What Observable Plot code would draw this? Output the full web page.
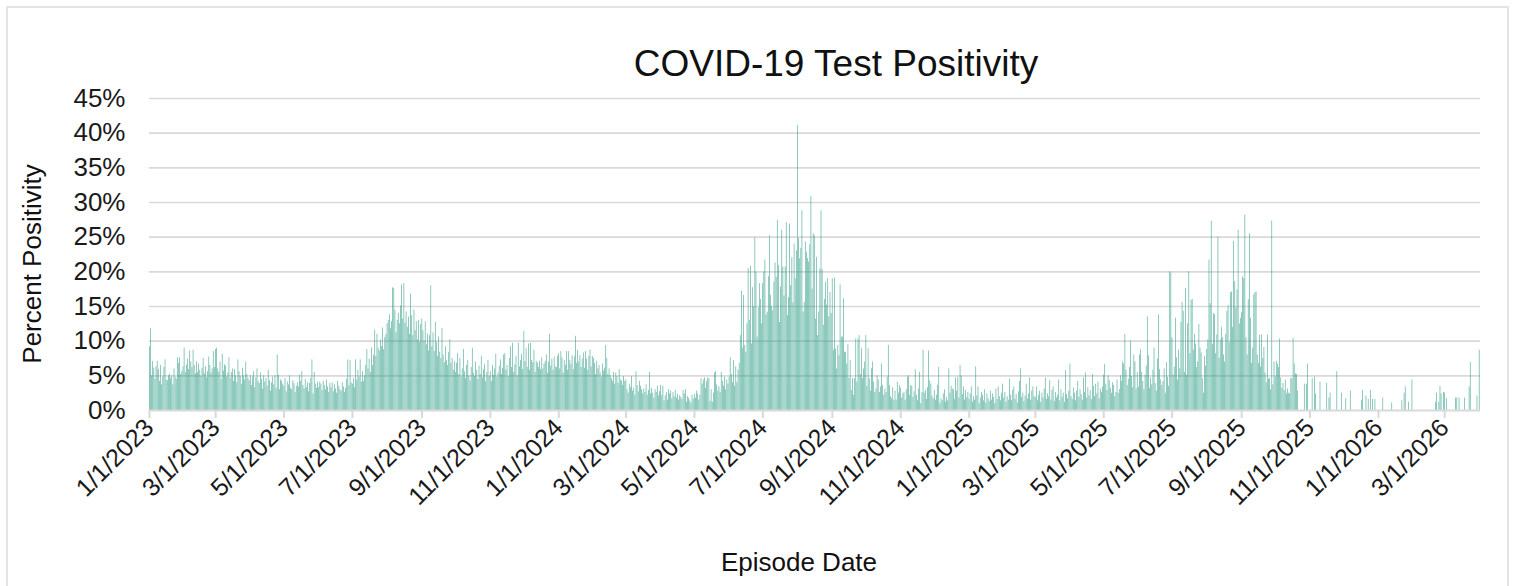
<!DOCTYPE html>
<html><head><meta charset="utf-8">
<script src="https://cdn.jsdelivr.net/npm/d3@7"></script>
<script src="https://cdn.jsdelivr.net/npm/@observablehq/plot@0.6"></script>
<style>
body{margin:0;background:#fff;}
#wrap{position:relative;width:1513px;height:586px;overflow:hidden;background:#fff;}
#frame{position:absolute;left:6px;top:6px;width:1503px;height:620px;border:2px solid #e4e4e4;box-sizing:border-box;}
#chart{position:absolute;left:0;top:0;}
</style></head><body>
<div id="wrap"><div id="frame"></div><div id="chart"></div></div>
<script>
// Daily percent positivity, one inner array per month (Jan..Dec)
const pos2023 = [
 [9.2,11.8,5.0,7.1,6.1,4.5,6.3,7.1,5.9,4.2,6.5,3.7,4.8,6.2,7.3,4.4,4.3,5.0,5.2,4.6,5.0,3.7,6.0,4.8,4.5,7.6,6.8,7.6,5.2,5.6,6.3],
 [9.0,5.5,6.5,7.4,5.9,8.6,7.0,6.2,8.7,6.5,5.3,7.0,5.5,6.7,5.8,4.9,6.1,7.5,5.3,6.3,4.7,5.6,7.7,6.5,5.4,6.0,8.5,6.2],
 [8.8,9.0,6.0,5.5,7.0,4.5,8.1,5.7,6.6,6.4,4.8,5.4,7.6,4.6,5.5,6.0,4.2,5.9,5.0,4.0,7.3,5.6,4.9,3.8,6.1,5.0,4.4,7.0,5.2,4.6,4.3],
 [5.0,3.6,4.8,5.6,3.3,4.7,6.0,4.2,3.9,5.4,4.5,3.1,5.0,4.1,4.6,3.5,5.8,4.3,2.8,4.0,4.8,3.7,5.0,3.2,8.0,5.1,3.0,4.4,4.2,3.8],
 [3.5,4.6,2.7,4.1,3.7,5.0,3.2,3.0,4.3,3.9,2.6,3.5,4.0,3.4,5.1,4.2,5.6,3.6,3.1,4.5,3.3,4.0,2.7,3.9,4.6,7.3,2.4,5.5,3.8,3.2,4.1],
 [3.3,4.1,3.8,2.9,4.2,3.6,3.0,4.4,3.4,2.6,3.9,3.3,4.0,2.7,3.7,3.1,2.5,4.2,3.5,3.0,2.8,4.0,3.4,2.6,3.2,4.5,7.3,3.6,7.2,4.0],
 [3.8,4.6,3.3,7.3,4.4,5.8,4.8,7.3,4.1,5.6,4.2,5.0,6.5,8.8,6.0,7.4,5.5,9.0,6.5,8.0,11.6,7.8,11.0,9.0,8.6,10.2,9.2,11.9,8.8,10.5,11.0],
 [12.5,13.0,13.8,11.8,12.8,17.7,17.6,14.5,11.2,13.0,14.0,12.5,15.1,18.1,13.2,18.3,12.6,14.2,12.0,13.5,11.0,16.8,13.7,10.8,14.5,11.5,12.8,10.2,13.0,9.8,12.4],
 [13.2,11.5,10.0,12.8,9.5,11.0,8.6,10.8,18.0,9.2,11.2,8.5,12.7,9.8,7.8,10.6,8.4,7.5,11.8,8.0,6.9,9.2,7.2,6.5,8.4,10.2,6.8,7.5,5.8,7.0],
 [5.5,6.8,8.2,5.2,7.5,4.8,6.0,8.8,5.6,4.6,6.5,7.2,5.0,4.3,6.2,9.0,5.4,4.9,7.0,5.8,4.5,6.4,5.2,7.8,4.7,5.9,6.6,4.2,5.5,7.2,4.9],
 [5.6,4.2,6.5,5.1,6.0,8.1,4.8,5.4,6.4,7.3,5.2,6.1,8.0,8.2,5.8,6.5,4.9,7.5,9.2,6.2,9.7,5.5,6.6,7.8,5.0,9.7,6.3,7.2,8.1,5.9],
 [11.4,7.0,8.9,6.2,9.6,5.8,9.7,7.2,6.9,8.7,5.5,7.1,6.8,6.2,7.1,5.9,7.6,6.0,6.7,7.1,8.0,5.4,7.0,11.0,6.4,7.4,5.8,7.7,6.3,6.2,7.8]
];
const pos2024 = [
 [8.2,6.0,8.5,7.6,5.4,7.2,6.5,8.5,5.8,8.5,7.2,6.6,7.9,5.9,7.8,10.7,6.8,8.7,7.0,7.9,6.2,7.4,8.3,6.1,8.5,7.4,5.8,7.8,8.7,6.3,7.8],
 [7.5,6.8,5.2,7.1,6.0,6.5,5.4,4.8,6.7,5.7,6.1,9.4,7.5,5.2,6.0,5.0,4.6,4.2,5.5,3.8,5.4,4.9,3.9,5.9,4.4,4.2,3.6,4.9,4.2],
 [4.4,3.0,2.5,3.8,3.3,4.9,2.8,3.2,2.2,5.6,3.6,2.7,4.2,3.5,3.0,2.4,3.1,2.6,3.7,2.2,2.9,5.5,2.4,3.2,2.5,1.8,3.0,2.6,3.5,2.1,2.7],
 [3.6,2.2,3.5,1.4,2.1,2.6,1.5,3.0,2.4,2.8,1.7,2.6,2.0,2.9,1.8,2.3,1.5,2.1,1.9,1.6,2.9,2.4,3.0,1.2,2.0,1.8,1.4,1.1,2.2,1.6],
 [2.3,1.8,2.8,2.4,1.5,2.2,4.6,3.8,4.4,4.7,3.2,4.2,4.7,4.6,1.3,3.0,1.2,2.5,5.4,5.6,3.7,2.8,3.4,2.6,5.5,4.2,3.5,4.8,3.0,4.4,3.8],
 [4.8,7.6,5.2,4.0,7.2,3.5,6.3,4.0,5.8,6.8,10.8,17.2,9.0,16.6,9.4,8.4,12.5,20.5,13.0,20.8,9.6,17.7,15.0,24.9,20.0,10.6,14.8,18.3,16.0,12.5],
 [18.3,20.0,21.7,13.8,14.2,19.3,25.2,16.6,15.0,14.4,18.5,21.3,19.2,27.4,20.9,12.7,17.8,26.0,20.7,16.5,20.7,27.1,13.7,16.3,26.9,18.0,22.0,15.5,24.0,19.0,23.0],
 [41.1,24.8,21.9,23.4,28.8,14.2,15.6,24.3,22.8,21.9,21.4,23.9,30.9,17.5,25.5,25.2,13.2,22.1,10.8,14.2,20.4,28.8,20.3,12.3,16.0,18.5,15.2,19.0,13.5,17.0,14.0],
 [19.0,8.7,19.1,8.9,6.0,9.4,7.9,18.1,10.6,10.6,16.1,8.4,8.4,6.7,9.5,4.6,7.2,2.9,4.6,2.2,4.6,10.3,4.1,10.3,10.8,5.2,8.9,4.6,6.0,7.0],
 [10.8,3.5,8.9,4.6,2.8,6.0,7.0,4.1,2.6,3.1,5.0,4.4,2.6,3.4,6.7,3.6,2.2,3.1,2.6,4.8,9.4,3.6,2.0,1.7,3.3,1.5,2.8,1.5,4.1,2.5,3.6],
 [3.2,1.8,2.4,2.6,1.5,3.0,4.8,5.0,2.2,3.6,3.5,1.9,2.7,5.9,2.2,1.4,3.1,5.5,1.0,2.6,8.7,2.5,2.9,1.6,3.3,8.6,4.3,3.8,2.1,1.7],
 [2.9,1.5,2.2,3.6,6.2,1.0,1.7,1.4,2.4,3.0,1.2,1.9,1.4,6.0,2.5,3.5,3.1,3.0,1.6,4.7,2.8,4.8,1.8,6.5,5.0,2.3,3.4,1.5,2.9,1.9,2.6]
];
const pos2025 = [
 [1.6,2.4,3.4,1.2,2.0,1.5,6.3,2.1,3.4,1.0,1.8,2.6,2.2,1.4,3.0,1.1,2.4,1.7,1.3,2.8,1.5,2.4,1.9,1.0,3.1,1.6,3.4,2.0,1.4,2.5,3.8],
 [1.8,2.6,1.2,2.0,1.5,4.5,2.2,1.4,2.9,3.4,1.6,2.3,1.1,2.7,4.2,6.0,1.9,2.5,1.3,2.1,3.8,1.7,2.4,4.7,1.5,2.8,3.4,2.0],
 [1.9,3.4,1.4,2.2,2.8,1.2,2.5,1.8,3.1,4.7,1.6,2.4,2.0,4.3,1.5,2.9,3.4,1.3,2.6,1.8,2.2,4.4,1.4,3.0,1.9,2.5,1.2,5.8,2.3,1.7,2.8],
 [6.7,2.0,1.6,3.2,2.5,1.4,2.8,4.2,1.9,3.0,2.3,1.5,4.7,2.6,5.4,1.8,3.3,2.1,2.9,1.6,5.2,3.5,2.0,3.8,2.4,4.1,1.7,3.1,2.6,3.4],
 [5.1,6.6,3.8,2.9,5.0,4.3,3.2,2.5,4.0,3.6,2.0,2.6,4.4,2.5,3.0,5.0,4.2,7.0,6.7,11.0,5.8,3.6,4.5,6.2,10.0,4.9,3.3,8.0,7.0,3.1,5.5],
 [3.4,8.0,8.8,5.5,4.2,3.0,5.1,6.4,13.5,7.9,3.2,4.7,3.7,5.8,9.0,3.9,2.8,7.4,13.8,5.9,4.4,3.6,4.2,6.0,2.5,6.9,4.8,3.5,20.0,19.8],
 [10.5,5.1,6.3,13.3,7.6,4.4,8.7,6.0,12.7,15.6,14.3,5.5,17.6,5.1,12.5,20.0,8.2,15.9,16.0,8.7,11.0,9.6,6.2,7.0,12.4,9.0,8.3,4.6,2.5,7.8,6.4],
 [8.8,10.2,21.7,15.4,27.3,9.5,14.0,13.8,8.2,10.9,25.0,7.5,10.2,12.0,10.5,8.0,7.0,11.0,14.3,15.1,9.8,17.0,17.1,12.0,24.4,18.6,14.8,17.4,26.0,12.5,13.3],
 [14.1,19.3,19.0,28.2,10.5,8.0,16.0,25.5,13.3,6.8,9.0,16.7,17.0,17.1,8.0,6.8,10.9,6.3,10.9,7.5,9.1,5.4,4.0,10.9,4.5,4.6,3.0,27.3,3.7,7.0],
 [4.8,7.1,6.7,6.2,10.3,4.7,3.2,3.9,2.9,4.4,2.4,3.1,2.5,2.4,4.6,4.6,10.4,6.7,5.3,5.2,2.8,0,0,0,0,0,3.8,0,3.8,6.7,0],
 [0,0,4.6,0,4.8,2.4,0,0,0,4.1,0,0,0,0,0,3.9,0,1.8,2.5,0,0,0,0,0,5.6,0,0,0,2.5,0],
 [0,0,1.7,0,0,0,2.8,0,0,0,0,0,0,0,0,0,1.4,2.9,0,0,2.1,0,1.6,0,2.9,0,1.6,0,1.6,0,0]
];
const pos2026 = [
 [0,0,0,0,1.8,0,0,0,0,0,0,0,1.1,0,0,0,0,0,0,0,0,1.4,0,2.5,3.4,0,0,1.2,0,0,4.4],
 [0,0,0,0,0,0,0,0,0,0,0,0,0,0,0,0,0,0,0,0,1.2,2.5,0,1.2,3.5,2.4,0,2.6],
 [2.5,0,1.7,0,0,0,0,0,0,0,1.8,1.8,0,1.8,0,0,0,0,1.8,0,0,0,3.4,6.9,0,0,0,0,0,2.1,0],
 [8.7]
];
const yTicks = [0, 5, 10, 15, 20, 25, 30, 35, 40, 45];
const xTickLabels = ["1/1/2023","3/1/2023","5/1/2023","7/1/2023","9/1/2023","11/1/2023","1/1/2024","3/1/2024","5/1/2024","7/1/2024","9/1/2024","11/1/2024","1/1/2025","3/1/2025","5/1/2025","7/1/2025","9/1/2025","11/1/2025","1/1/2026","3/1/2026"];
const titleText = "COVID-19 Test Positivity";
const xTitle = "Episode Date";
const yTitle = "Percent Positivity";

const parse = s => { const [m, d, y] = s.split("/").map(Number); return new Date(Date.UTC(y, m - 1, d)); };
const xTicks = xTickLabels.map(parse);
const fmt = d => `${d.getUTCMonth() + 1}/${d.getUTCDate()}/${d.getUTCFullYear()}`;

const rows = [];
[[2023, pos2023], [2024, pos2024], [2025, pos2025], [2026, pos2026]].forEach(([yr, months]) => {
  months.forEach((vals, m) => vals.forEach((v, i) => {
    if (v > 0) rows.push({d: new Date(Date.UTC(yr, m, 1 + i)), e: new Date(Date.UTC(yr, m, 2 + i)), v});
  }));
});

const FONT = "'Liberation Sans', Arial, sans-serif";
const svg = Plot.plot({
  width: 1513, height: 586,
  marginLeft: 149, marginRight: 33, marginTop: 98, marginBottom: 176,
  style: {fontFamily: FONT, background: "transparent", overflow: "visible"},
  x: {type: "utc", domain: [new Date(Date.UTC(2023, 0, 1)), new Date(Date.UTC(2026, 3, 2))]},
  y: {domain: [0, 45]},
  marks: [
    Plot.ruleY(yTicks.filter(t => t > 0), {stroke: "#d9d9d9", strokeWidth: 1.6}),
    Plot.rect(rows, {x1: "d", x2: "e", y1: 0, y2: "v", fill: "#2f9e88", fillOpacity: 0.82, insetRight: 0.45}),
    Plot.ruleY([0], {stroke: "#d9d9d9", strokeWidth: 2}),
    Plot.axisY(yTicks, {anchor: "left", tickSize: 0, tickPadding: 24, tickFormat: d => d + "%", fontSize: 26, fill: "#1a1a1a", label: null}),
    Plot.axisX(xTicks, {anchor: "bottom", tickRotate: -45, tickSize: 8, tickPadding: 5, stroke: "#d9d9d9", strokeWidth: 2, fill: "#1a1a1a", fontSize: 25, tickFormat: fmt, label: null})
  ]
});
document.getElementById("chart").appendChild(svg);
const s = d3.select(svg);
s.append("text").attr("x", 836).attr("y", 76).attr("text-anchor", "middle").attr("font-size", 37).attr("fill", "#111").style("font-family", FONT).text(titleText);
s.append("text").attr("x", 799).attr("y", 571).attr("text-anchor", "middle").attr("font-size", 26).attr("fill", "#111").style("font-family", FONT).text(xTitle);
s.append("text").attr("transform", "translate(41,264) rotate(-90)").attr("text-anchor", "middle").attr("font-size", 26).attr("fill", "#111").style("font-family", FONT).text(yTitle);
</script>
</body></html>
